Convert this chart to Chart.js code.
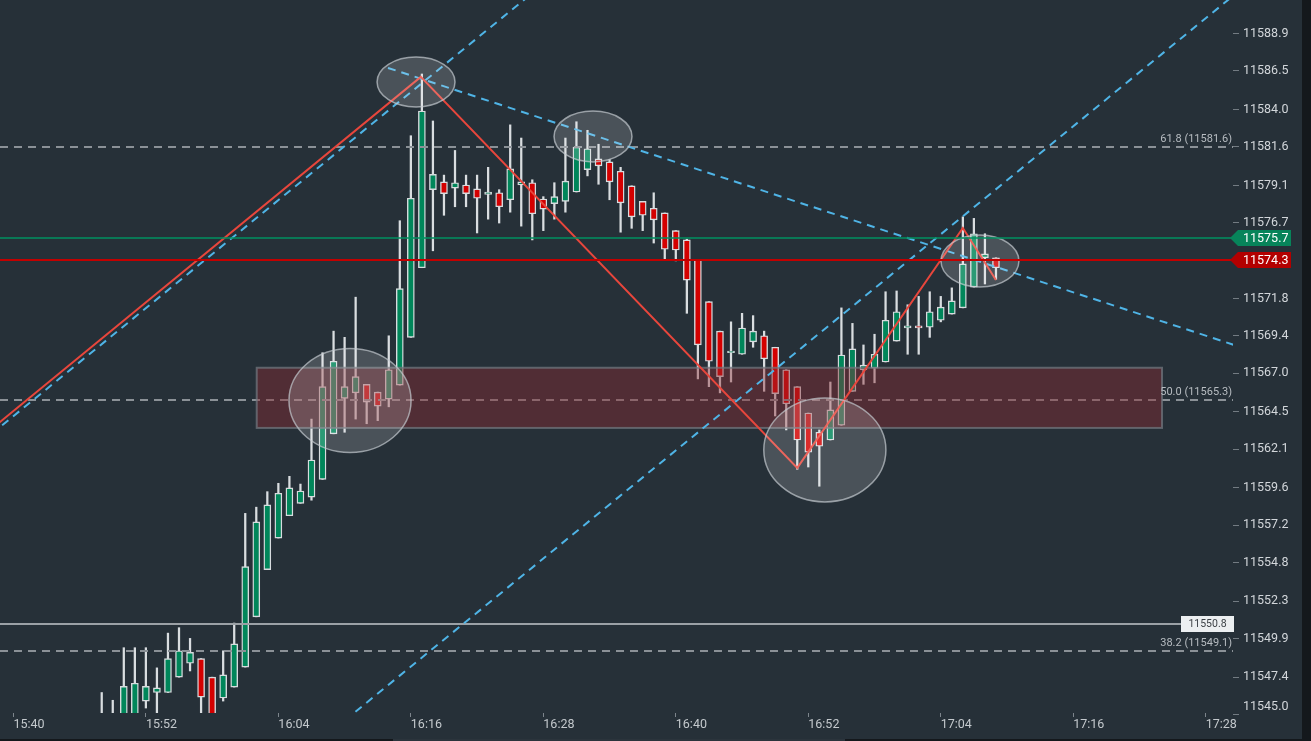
<!DOCTYPE html>
<html>
<head>
<meta charset="utf-8">
<script src="https://cdn.jsdelivr.net/npm/chart.js@4.4.0/dist/chart.umd.min.js"></script>
<style>
  html, body { margin: 0; padding: 0; background: #14181c; }
  #wrap { position: absolute; left: 0; top: 0; width: 1302px; height: 739px; background: #263038; }
  #scroll { position: absolute; left: 393px; top: 739px; width: 452px; height: 2px; background: #2b343c; }
</style>
</head>
<body>
<div id="wrap"><canvas id="c" width="1302" height="739"></canvas></div>
<div id="scroll"></div>
<script>
// 1-minute candles, times are HH:MM
var times = [
  '15:48','15:49','15:50','15:51','15:52','15:53','15:54','15:55','15:56','15:57',
  '15:58','15:59','16:00','16:01','16:02','16:03','16:04','16:05','16:06','16:07',
  '16:08','16:09','16:10','16:11','16:12','16:13','16:14','16:15','16:16','16:17',
  '16:18','16:19','16:20','16:21','16:22','16:23','16:24','16:25','16:26','16:27',
  '16:28','16:29','16:30','16:31','16:32','16:33','16:34','16:35','16:36','16:37',
  '16:38','16:39','16:40','16:41','16:42','16:43','16:44','16:45','16:46','16:47',
  '16:48','16:49','16:50','16:51','16:52','16:53','16:54','16:55','16:56','16:57',
  '16:58','16:59','17:00','17:01','17:02','17:03','17:04','17:05','17:06','17:07',
  '17:08','17:09'
];
var opens = [
  11544.22, 11544.42, 11544.62, 11544.82, 11545.86, 11546.41, 11546.41, 11547.4, 11548.3, 11548.6,
  11547.4, 11546.06, 11546.76, 11548.05, 11551.29, 11554.33, 11556.37, 11557.81, 11558.61, 11559.01,
  11560.15, 11563.09, 11565.38, 11565.73, 11566.28, 11565.78, 11565.33, 11566.23, 11569.31, 11573.8,
  11578.83, 11579.33, 11578.93, 11579.13, 11578.88, 11578.53, 11578.63, 11578.18, 11579.13, 11579.28,
  11578.23, 11577.93, 11578.08, 11578.68, 11580.12, 11580.82, 11580.62, 11580.02, 11579.08, 11578.08,
  11577.63, 11577.33, 11576.19, 11575.59, 11574.34, 11571.61, 11569.71, 11568.32, 11568.22, 11569.02,
  11569.41, 11568.67, 11567.22, 11566.13, 11564.43, 11563.19, 11562.69, 11563.64, 11565.83, 11567.22,
  11567.32, 11567.72, 11569.07, 11569.91, 11570.06, 11569.96, 11570.41, 11570.81, 11571.21, 11572.55,
  11574.44, 11574.44
];
var highs = [
  11546.41, 11545.91, 11549.3, 11549.3, 11549.3, 11548.0, 11550.24, 11550.59, 11549.9, 11548.6,
  11547.4, 11549.1, 11550.89, 11557.96, 11558.36, 11559.36, 11559.9, 11560.35, 11559.85, 11564.04,
  11568.32, 11569.71, 11569.31, 11571.9, 11566.28, 11565.78, 11569.41, 11576.83, 11582.31, 11586.29,
  11583.26, 11579.77, 11581.36, 11579.77, 11579.77, 11580.27, 11578.83, 11583.01, 11582.16, 11579.47,
  11578.38, 11579.28, 11582.16, 11583.21, 11582.66, 11581.76, 11580.77, 11580.27, 11579.08, 11578.08,
  11578.63, 11577.33, 11576.19, 11575.64, 11574.34, 11571.61, 11569.71, 11570.31, 11570.86, 11570.71,
  11569.71, 11568.67, 11567.22, 11566.13, 11564.43, 11563.34, 11566.43, 11571.21, 11570.21, 11568.82,
  11569.51, 11572.25, 11572.3, 11571.41, 11571.95, 11572.25, 11571.95, 11572.5, 11577.08, 11576.98,
  11575.99, 11574.44
];
var lows = [
  11543.82, 11544.02, 11544.42, 11544.62, 11545.41, 11544.82, 11546.41, 11547.4, 11547.8, 11544.72,
  11544.22, 11545.86, 11546.76, 11548.05, 11551.29, 11554.33, 11556.37, 11557.81, 11558.61, 11558.81,
  11560.15, 11563.09, 11563.19, 11564.04, 11563.74, 11563.94, 11564.83, 11566.23, 11569.31, 11573.8,
  11574.89, 11577.18, 11577.73, 11577.73, 11576.04, 11576.93, 11576.68, 11577.38, 11576.48, 11575.59,
  11576.19, 11576.93, 11577.38, 11578.68, 11579.72, 11579.18, 11578.18, 11576.09, 11576.34, 11576.19,
  11575.39, 11574.34, 11574.24, 11570.86, 11566.63, 11566.13, 11565.73, 11566.43, 11568.22, 11568.67,
  11565.83, 11564.24, 11563.34, 11560.8, 11560.95, 11559.71, 11562.69, 11563.64, 11565.83, 11566.28,
  11566.38, 11567.72, 11569.07, 11568.22, 11568.22, 11569.31, 11570.31, 11570.81, 11571.21, 11572.55,
  11572.75, 11573.05
];
var closes = [
  11544.72, 11544.82, 11546.81, 11547.01, 11546.81, 11546.71, 11548.6, 11549.1, 11549.0, 11546.11,
  11544.72, 11547.55, 11549.55, 11554.53, 11557.41, 11558.51, 11559.26, 11559.6, 11559.4, 11561.4,
  11566.13, 11567.77, 11566.13, 11566.78, 11565.13, 11564.88, 11567.22, 11572.45, 11578.28, 11583.9,
  11579.82, 11578.58, 11579.28, 11578.58, 11578.28, 11578.68, 11577.73, 11580.17, 11579.33, 11577.28,
  11577.58, 11578.38, 11579.38, 11581.57, 11581.47, 11580.37, 11579.33, 11577.98, 11577.08, 11577.18,
  11576.88, 11574.99, 11574.94, 11573.0, 11568.82, 11567.77, 11566.78, 11568.42, 11569.91, 11569.71,
  11567.92, 11565.68, 11565.03, 11562.69, 11561.9, 11562.29, 11564.63, 11568.17, 11568.57, 11567.52,
  11568.22, 11570.41, 11570.96, 11570.06, 11569.91, 11570.96, 11571.26, 11571.66, 11574.05, 11575.99,
  11574.69, 11573.8
];

var xTickLabels = ['15:40', '15:52', '16:04', '16:16', '16:28', '16:40', '16:52', '17:04', '17:16', '17:28'];
var yTickLabels = [11545.0, 11547.4, 11549.9, 11552.3, 11554.8, 11557.2, 11559.6, 11562.1, 11564.5, 11567.0,
                   11569.4, 11571.8, 11574.3, 11576.7, 11579.1, 11581.6, 11584.0, 11586.5, 11588.9];

// drawings (time in minutes after 15:40, price)
var fibRatios = ['61.8', '50.0', '38.2'];
var fibPrices = [11581.6, 11565.3, 11549.1];
var markPrice = 11550.8;
var askPrice = 11575.7;
var lastPrice = 11574.3;
var zigzagMinutes = [-2, 36.9, 71.0, 86.0, 89.0];
var zigzagPrices = [11563.39, 11586.1, 11560.89, 11576.36, 11573.01];
var trendMinutes = [[-2, 48], [33.93, 111], [30, 111]];
var trendPrices = [[11563.07, 11592.08], [11586.68, 11568.72], [11544.6, 11591.63]];
var zoneMinutes = [22.04, 104.04];
var zonePrices = [11563.47, 11567.35];
var ringMinutes = [36.47, 52.5, 30.49, 73.5, 87.55];
var ringPrices = [11585.77, 11582.26, 11565.24, 11562.05, 11574.23];
var ringHalfMinutes = [3.53, 3.53, 5.53, 5.53, 3.53];
var ringHalfPrices = [1.61, 1.64, 3.35, 3.35, 1.68];

var xMin = -1.214, xMax = 110.47;
var yMin = 11545.09, yMax = 11591.06;

function toMin(t) {
  var p = t.split(':');
  return (+p[0]) * 60 + (+p[1]) - (15 * 60 + 40);
}

var GREEN = '#00865a', RED = '#d40000';
var font = "Roboto, 'Noto Sans', sans-serif";

var bodies = times.map(function(t, i) { return { x: toMin(t), y: [opens[i], closes[i]] }; });
var wicks = times.map(function(t, i) { return { x: toMin(t), y: [lows[i], highs[i]] }; });
var bodyColors = closes.map(function(c, i) { return c >= opens[i] ? GREEN : RED; });

var overlay = {
  id: 'overlay',
  afterDatasetsDraw: function(chart) {
    var ctx = chart.ctx, a = chart.chartArea, xs = chart.scales.x, ys = chart.scales.y;
    var X = function(m) { return xs.getPixelForValue(m); };
    var Y = function(p) { return ys.getPixelForValue(p); };
    ctx.save();
    ctx.beginPath();
    ctx.rect(a.left, a.top, a.right - a.left, a.bottom - a.top);
    ctx.clip();

    // fib levels
    ctx.setLineDash([8, 6]);
    ctx.lineWidth = 2;
    ctx.strokeStyle = '#8b9197';
    fibPrices.forEach(function(p) {
      var y = Math.round(Y(p));
      ctx.beginPath(); ctx.moveTo(a.left, y); ctx.lineTo(a.right, y); ctx.stroke();
    });
    ctx.setLineDash([]);

    // grey price line
    ctx.strokeStyle = '#9ba1a6';
    ctx.lineWidth = 2;
    var ym = Math.round(Y(markPrice));
    ctx.beginPath(); ctx.moveTo(a.left, ym); ctx.lineTo(a.right - 50, ym); ctx.stroke();

    // zone
    var zx0 = X(zoneMinutes[0]), zx1 = X(zoneMinutes[1]);
    var zy0 = Y(zonePrices[1]), zy1 = Y(zonePrices[0]);
    ctx.fillStyle = 'rgba(140, 44, 50, 0.42)';
    ctx.fillRect(zx0, zy0, zx1 - zx0, zy1 - zy0);
    ctx.strokeStyle = 'rgba(112, 118, 126, 0.75)';
    ctx.lineWidth = 2;
    ctx.strokeRect(zx0, zy0, zx1 - zx0, zy1 - zy0);

    // trend lines
    ctx.setLineDash([8, 6]);
    ctx.strokeStyle = '#4fb4e6';
    ctx.lineWidth = 2;
    trendMinutes.forEach(function(tm, i) {
      ctx.beginPath();
      ctx.moveTo(X(tm[0]), Y(trendPrices[i][0]));
      ctx.lineTo(X(tm[1]), Y(trendPrices[i][1]));
      ctx.stroke();
    });
    ctx.setLineDash([]);

    // zigzag
    ctx.strokeStyle = '#e8463c';
    ctx.lineWidth = 2;
    ctx.beginPath();
    zigzagMinutes.forEach(function(m, i) {
      if (i === 0) ctx.moveTo(X(m), Y(zigzagPrices[i]));
      else ctx.lineTo(X(m), Y(zigzagPrices[i]));
    });
    ctx.stroke();

    // rings
    ringMinutes.forEach(function(m, i) {
      var cx = X(m), cy = Y(ringPrices[i]);
      var rx = X(m + ringHalfMinutes[i]) - cx;
      var ry = cy - Y(ringPrices[i] + ringHalfPrices[i]);
      ctx.beginPath();
      ctx.ellipse(cx, cy, rx, ry, 0, 0, Math.PI * 2);
      ctx.fillStyle = 'rgba(255, 255, 255, 0.17)';
      ctx.fill();
      ctx.strokeStyle = 'rgba(196, 202, 208, 0.7)';
      ctx.lineWidth = 1.5;
      ctx.stroke();
    });

    // ask / last lines
    ctx.lineWidth = 1.4;
    ctx.strokeStyle = '#009060';
    var ya = Math.round(Y(askPrice));
    ctx.beginPath(); ctx.moveTo(a.left, ya); ctx.lineTo(a.right, ya); ctx.stroke();
    ctx.lineWidth = 1.8;
    ctx.strokeStyle = '#c20000';
    var yl = Math.round(Y(lastPrice));
    ctx.beginPath(); ctx.moveTo(a.left, yl); ctx.lineTo(a.right, yl); ctx.stroke();
    ctx.restore();
  },
  afterDraw: function(chart) {
    var ctx = chart.ctx, a = chart.chartArea, ys = chart.scales.y;
    var Y = function(p) { return ys.getPixelForValue(p); };
    ctx.save();

    // fib labels
    ctx.font = '11px ' + font;
    ctx.fillStyle = '#b7bcc1';
    ctx.textAlign = 'right';
    ctx.textBaseline = 'alphabetic';
    fibPrices.forEach(function(p, i) {
      ctx.fillText(fibRatios[i] + ' (' + p.toFixed(1) + ')', a.right - 1, Math.round(Y(p)) - 5);
    });

    // grey price box
    var ym = Math.round(Y(markPrice));
    ctx.fillStyle = '#eceff1';
    ctx.fillRect(a.right - 52, ym - 8, 53, 16);
    ctx.fillStyle = '#3a3f44';
    ctx.font = '10.5px ' + font;
    ctx.textAlign = 'center';
    ctx.textBaseline = 'middle';
    ctx.fillText(markPrice.toFixed(1), a.right - 25.5, ym + 0.5);

    // axis badges
    function badge(p, color) {
      var yc = Math.round(Y(p));
      var x0 = a.right - 3;
      ctx.fillStyle = color;
      ctx.beginPath();
      ctx.moveTo(x0, yc);
      ctx.lineTo(x0 + 8, yc - 8);
      ctx.lineTo(x0 + 61, yc - 8);
      ctx.lineTo(x0 + 61, yc + 8);
      ctx.lineTo(x0 + 8, yc + 8);
      ctx.closePath();
      ctx.fill();
      ctx.fillStyle = '#ffffff';
      ctx.font = '12.5px ' + font;
      ctx.textAlign = 'left';
      ctx.textBaseline = 'middle';
      ctx.fillText(p.toFixed(1), a.right + 10, yc + 0.5);
    }
    badge(askPrice, '#07845a');
    badge(lastPrice, '#b30000');
    ctx.restore();
  }
};

new Chart(document.getElementById('c'), {
  type: 'bar',
  data: {
    datasets: [
      {
        label: 'body',
        data: bodies,
        backgroundColor: bodyColors,
        borderColor: '#d7dbde',
        borderWidth: 1.4,
        borderSkipped: false,
        barThickness: 7,
        grouped: false,
        clip: 0,
        order: 0
      },
      {
        label: 'wick',
        data: wicks,
        backgroundColor: '#d9dde0',
        borderWidth: 0,
        barThickness: 1.6,
        grouped: false,
        clip: 0,
        order: 1
      }
    ]
  },
  options: {
    responsive: false,
    animation: false,
    layout: { padding: 0 },
    plugins: { legend: { display: false }, tooltip: { enabled: false } },
    scales: {
      x: {
        type: 'linear',
        min: xMin,
        max: xMax,
        offset: false,
        grid: { offset: false, drawOnChartArea: false, drawTicks: true, tickLength: 4, color: '#7d858c' },
        border: { display: false },
        ticks: {
          align: 'start',
          padding: 0,
          color: '#c4c9cd',
          font: { family: font, size: 12.5 },
          maxRotation: 0,
          autoSkip: false,
          callback: function(v, i) { return xTickLabels[i]; }
        },
        afterBuildTicks: function(s) {
          s.ticks = xTickLabels.map(function(t) { return { value: toMin(t) }; });
        },
        afterFit: function(s) { s.height = 26; s.paddingLeft = 0; s.paddingRight = 0; }
      },
      y: {
        position: 'right',
        min: yMin,
        max: yMax,
        grid: { drawOnChartArea: false, drawTicks: true, tickLength: 6, color: '#737b82' },
        border: { display: false },
        ticks: {
          padding: 4,
          color: '#d2d6da',
          font: { family: font, size: 12.5 },
          autoSkip: false,
          // the lowest label sits just under the plot, lift it inside like the original
          callback: function(v, i) { return i === 0 ? [v.toFixed(1), ''] : v.toFixed(1); }
        },
        afterBuildTicks: function(s) {
          s.ticks = yTickLabels.map(function(v) { return { value: v }; });
        },
        afterFit: function(s) { s.width = 69; s.paddingTop = 0; s.paddingBottom = 0; }
      }
    }
  },
  plugins: [overlay]
});
</script>
</body>
</html>
